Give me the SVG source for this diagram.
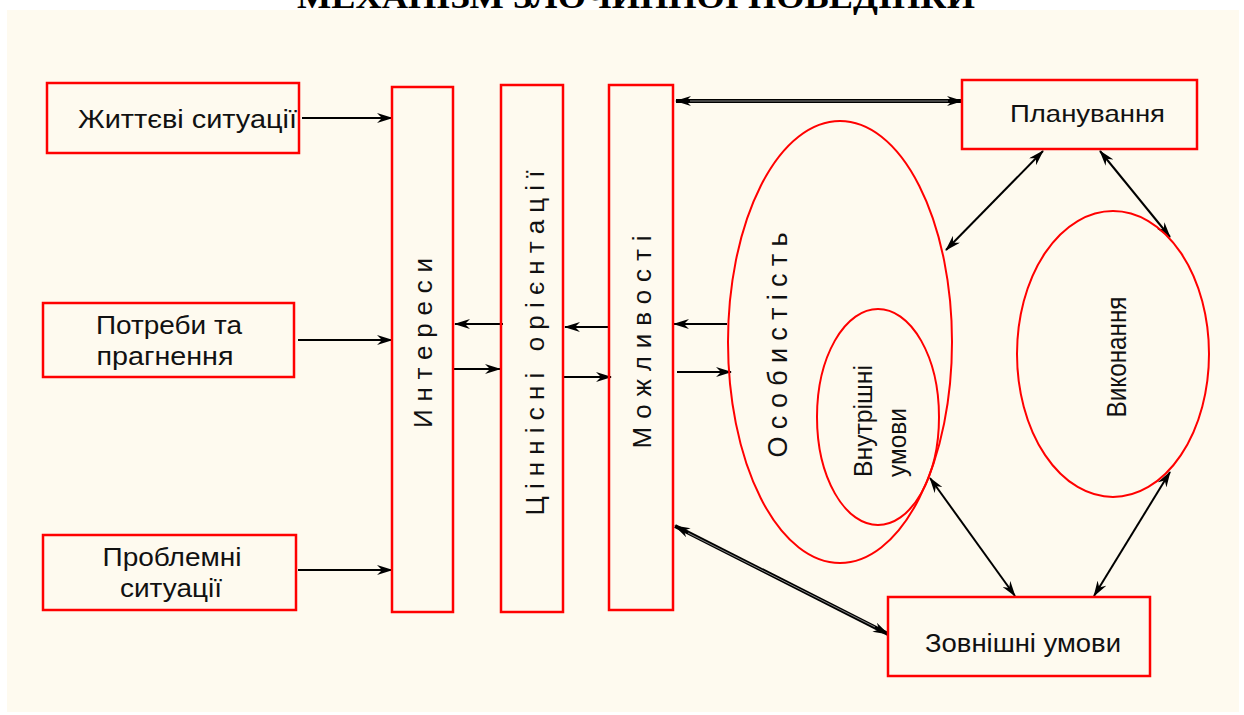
<svg xmlns="http://www.w3.org/2000/svg" width="1244" height="715" viewBox="0 0 1244 715">
<defs>
<style>
.box{fill:none;stroke:#ff0000;stroke-width:2.5}
.ell{fill:none;stroke:#ff0000;stroke-width:2}
.t{font-family:"Liberation Sans",Arial,sans-serif;fill:#111}
.ttl{font-family:"Liberation Serif","Times New Roman",serif;font-size:34px;font-weight:bold;fill:#000}
.c{stroke:#000;stroke-width:2;fill:none}
.dbl{stroke:#000;stroke-width:4;fill:none}
.dblin{stroke:#888;stroke-width:1;fill:none}
</style>
<marker id="ah" viewBox="0 0 16 10" refX="15" refY="5" markerWidth="16" markerHeight="10" markerUnits="userSpaceOnUse" orient="auto-start-reverse">
<path d="M0,0 L16,5 L0,10 L5,5 z" fill="#000"/>
</marker>
</defs>
<rect x="7" y="10" width="1232" height="702" fill="#fefaef"/>
<text class="ttl" x="297" y="8" textLength="678" lengthAdjust="spacingAndGlyphs">МЕХАНІЗМ ЗЛОЧИННОЇ ПОВЕДІНКИ</text>

<g id="connectors">
<line class="c" x1="302" y1="118" x2="392" y2="118" marker-end="url(#ah)"/>
<line class="c" x1="298" y1="340" x2="392" y2="340" marker-end="url(#ah)"/>
<line class="c" x1="298" y1="570" x2="392" y2="570" marker-end="url(#ah)"/>
<line class="c" x1="503" y1="324" x2="455" y2="324" marker-end="url(#ah)"/>
<line class="c" x1="454" y1="369" x2="500" y2="369" marker-end="url(#ah)"/>
<line class="c" x1="610" y1="327" x2="565" y2="327" marker-end="url(#ah)"/>
<line class="c" x1="564" y1="377" x2="611" y2="377" marker-end="url(#ah)"/>
<line class="c" x1="727" y1="324" x2="674" y2="324" marker-end="url(#ah)"/>
<line class="c" x1="677" y1="372" x2="731" y2="372" marker-end="url(#ah)"/>
<line class="dbl" x1="676" y1="101" x2="962" y2="101" marker-start="url(#ah)" marker-end="url(#ah)"/>
<line class="dblin" x1="690" y1="101" x2="948" y2="101"/>
<line class="c" x1="1043" y1="151" x2="946" y2="250" marker-start="url(#ah)" marker-end="url(#ah)"/>
<line class="c" x1="1100" y1="151" x2="1170" y2="237" marker-start="url(#ah)" marker-end="url(#ah)"/>
<line class="c" x1="930" y1="478" x2="1015" y2="596" marker-start="url(#ah)" marker-end="url(#ah)"/>
<line class="c" x1="1170" y1="472" x2="1094" y2="596" marker-start="url(#ah)" marker-end="url(#ah)"/>
<line class="dbl" x1="675" y1="526" x2="888" y2="634" marker-start="url(#ah)" marker-end="url(#ah)"/>
<line class="dblin" x1="688" y1="533" x2="875" y2="627"/>
</g>

<g id="life">
<rect class="box" x="47" y="83" width="252" height="70"/>
<text class="t" style="font-size:25px" x="78" y="128" textLength="219" lengthAdjust="spacingAndGlyphs">Життєві ситуації</text>
</g>
<g id="needs">
<rect class="box" x="43" y="303" width="251" height="74"/>
<text class="t" style="font-size:25px" x="169" y="334" text-anchor="middle" textLength="146" lengthAdjust="spacingAndGlyphs">Потреби та</text>
<text class="t" style="font-size:25px" x="165" y="365" text-anchor="middle" textLength="137" lengthAdjust="spacingAndGlyphs">прагнення</text>
</g>
<g id="problems">
<rect class="box" x="43" y="535" width="253" height="75"/>
<text class="t" style="font-size:25px" x="172" y="566" text-anchor="middle" textLength="139" lengthAdjust="spacingAndGlyphs">Проблемні</text>
<text class="t" style="font-size:25px" x="171" y="597" text-anchor="middle" textLength="102" lengthAdjust="spacingAndGlyphs">ситуації</text>
</g>
<g id="interests">
<rect class="box" x="392" y="87" width="61" height="525"/>
<text class="t" style="font-size:26px" transform="translate(432,343) rotate(-90)" x="0" y="0" text-anchor="middle" textLength="170" lengthAdjust="spacing">Интереси</text>
</g>
<g id="values">
<rect class="box" x="501" y="85" width="62" height="527"/>
<text class="t" style="font-size:26px" transform="translate(544,343) rotate(-90)" x="0" y="0" text-anchor="middle" textLength="345" lengthAdjust="spacing">Ціннісні орієнтації</text>
</g>
<g id="possibilities">
<rect class="box" x="609" y="85" width="64" height="525"/>
<text class="t" style="font-size:26px" transform="translate(651,342) rotate(-90)" x="0" y="0" text-anchor="middle" textLength="213" lengthAdjust="spacing">Можливості</text>
</g>
<g id="planning">
<rect class="box" x="962" y="80" width="235" height="69"/>
<text class="t" style="font-size:24px" x="1010" y="122" textLength="155" lengthAdjust="spacingAndGlyphs">Планування</text>
</g>
<g id="external">
<rect class="box" x="888" y="597" width="262" height="79"/>
<text class="t" style="font-size:26px" x="925" y="652" textLength="196" lengthAdjust="spacingAndGlyphs">Зовнішні умови</text>
</g>
<g id="personality">
<ellipse class="ell" cx="840" cy="342" rx="112" ry="221"/>
<text class="t" style="font-size:27px" transform="translate(787,345) rotate(-90)" x="0" y="0" text-anchor="middle" textLength="225" lengthAdjust="spacing">Особистість</text>
</g>
<g id="internal">
<ellipse class="ell" cx="878" cy="417" rx="61" ry="108"/>
<text class="t" style="font-size:26px" transform="translate(872,477) rotate(-90)" x="0" y="0" textLength="112" lengthAdjust="spacingAndGlyphs">Внутрішні</text>
<text class="t" style="font-size:26px" transform="translate(906,477) rotate(-90)" x="0" y="0" textLength="69" lengthAdjust="spacingAndGlyphs">умови</text>
</g>
<g id="execution">
<ellipse class="ell" cx="1113" cy="354" rx="96" ry="143"/>
<text class="t" style="font-size:27px" transform="translate(1126,357) rotate(-90)" x="0" y="0" text-anchor="middle" textLength="121" lengthAdjust="spacingAndGlyphs">Виконання</text>
</g>
</svg>
